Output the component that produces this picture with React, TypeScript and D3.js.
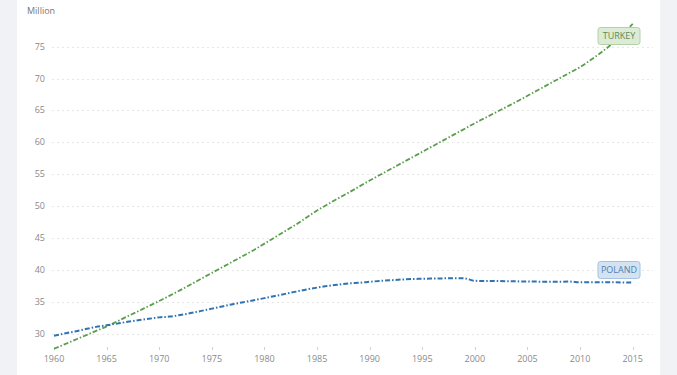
import React, { useEffect, useRef } from "react";
import * as d3 from "d3";

const years = d3.range(1960, 2016);

// Population, millions
const poland = [
  29.64, 30.0, 30.33, 30.69, 31.04, 31.3, 31.55, 31.84, 32.08, 32.3,
  32.53, 32.66, 32.9, 33.2, 33.55, 33.9, 34.25, 34.6, 34.92, 35.22,
  35.55, 35.88, 36.22, 36.57, 36.91, 37.2, 37.46, 37.66, 37.86, 37.96,
  38.11, 38.25, 38.36, 38.46, 38.54, 38.59, 38.62, 38.65, 38.66, 38.66,
  38.26, 38.25, 38.23, 38.2, 38.18, 38.17, 38.14, 38.12, 38.13, 38.15,
  38.04, 38.06, 38.06, 38.04, 38.01, 37.99,
];

const turkey = [
  27.6, 28.3, 29.0, 29.7, 30.4, 31.1, 31.9, 32.7, 33.5, 34.3,
  35.1, 35.95, 36.8, 37.7, 38.6, 39.5, 40.4, 41.3, 42.2, 43.1,
  44.1, 45.1, 46.1, 47.1, 48.2, 49.3, 50.25, 51.2, 52.1, 53.05,
  54.0, 54.9, 55.8, 56.7, 57.6, 58.5, 59.4, 60.3, 61.2, 62.1,
  63.0, 63.85, 64.7, 65.55, 66.4, 67.3, 68.2, 69.1, 70.0, 70.9,
  71.8, 72.9, 74.1, 75.4, 76.9, 78.6,
];

const yTicks = [30, 35, 40, 45, 50, 55, 60, 65, 70, 75];
const xTicks = [1960, 1965, 1970, 1975, 1980, 1985, 1990, 1995, 2000, 2005, 2010, 2015];

const W = 677;
const H = 375;
const font = "'Open Sans', 'Noto Sans', sans-serif";

const App: React.FC = () => {
  const ref = useRef<SVGSVGElement | null>(null);

  useEffect(() => {
    if (!ref.current) return;
    const svg = d3.select(ref.current);
    svg.selectAll("*").remove();

    // background panels
    svg.append("rect").attr("width", W).attr("height", H).attr("fill", "#f1f2f6");
    svg.append("rect").attr("x", 17).attr("y", 0).attr("width", 643).attr("height", H).attr("fill", "#ffffff");

    const x = d3.scaleLinear().domain([1960, 2015]).range([54, 632.7]);
    const y = d3.scaleLinear().domain([30, 75]).range([333.5, 46.7]);

    // grid
    svg.append("g")
      .selectAll("line")
      .data(yTicks)
      .enter()
      .append("line")
      .attr("x1", 52)
      .attr("x2", 653)
      .attr("y1", d => Math.round(y(d)) + 0.5)
      .attr("y2", d => Math.round(y(d)) + 0.5)
      .attr("stroke", "#e6e6e6")
      .attr("stroke-dasharray", "2,3");

    // y labels
    svg.append("g")
      .selectAll("text")
      .data(yTicks)
      .enter()
      .append("text")
      .attr("x", 45)
      .attr("y", d => y(d) + 3)
      .attr("text-anchor", "end")
      .attr("font-family", font)
      .attr("font-size", 9)
      .attr("fill", "#8a8a8a")
      .text(d => d);

    svg.append("text")
      .attr("x", 27)
      .attr("y", 14)
      .attr("font-family", font)
      .attr("font-size", 9)
      .attr("fill", "#777")
      .text("Million");

    // x ticks and labels
    const xg = svg.append("g");
    xg.selectAll("line")
      .data(xTicks)
      .enter()
      .append("line")
      .attr("x1", d => Math.round(x(d)) + 0.5)
      .attr("x2", d => Math.round(x(d)) + 0.5)
      .attr("y1", 347)
      .attr("y2", 350)
      .attr("stroke", "#d0d0d0");
    xg.selectAll("text")
      .data(xTicks)
      .enter()
      .append("text")
      .attr("x", d => x(d))
      .attr("y", 362)
      .attr("text-anchor", "middle")
      .attr("font-family", font)
      .attr("font-size", 9)
      .attr("fill", "#8a8a8a")
      .text(d => d);

    const line = d3
      .line<number>()
      .x((_, i) => x(years[i]))
      .y(d => y(d))
      .curve(d3.curveMonotoneX);

    svg.append("path")
      .datum(turkey)
      .attr("fill", "none")
      .attr("stroke", "#5b9e4d")
      .attr("stroke-width", 1.8)
      .attr("stroke-dasharray", "5,2,1.5,2")
      .attr("d", line);

    svg.append("path")
      .datum(poland)
      .attr("fill", "none")
      .attr("stroke", "#2f73b3")
      .attr("stroke-width", 2)
      .attr("stroke-dasharray", "5,2,1.5,2")
      .attr("d", line);

    // series labels
    const label = (text: string, cx: number, cy: number, fill: string, stroke: string, color: string) => {
      const g = svg.append("g");
      g.append("rect")
        .attr("x", cx - 21)
        .attr("y", cy - 8.5)
        .attr("width", 42)
        .attr("height", 17)
        .attr("rx", 2.5)
        .attr("fill", fill)
        .attr("stroke", stroke);
      g.append("text")
        .attr("x", cx)
        .attr("y", cy + 3.3)
        .attr("text-anchor", "middle")
        .attr("font-family", font)
        .attr("font-size", 9)
        .attr("fill", color)
        .text(text);
    };
    label("TURKEY", 619, 36, "#dcebd6", "#b3d2a8", "#5e8a55");
    label("POLAND", 619, 270, "#d3e3f2", "#a7c3df", "#4f7fb0");
  }, []);

  return (
    <svg
      ref={ref}
      width={W}
      height={H}
      style={{ position: "absolute", left: 0, top: 0, display: "block" }}
    />
  );
};

export default App;
